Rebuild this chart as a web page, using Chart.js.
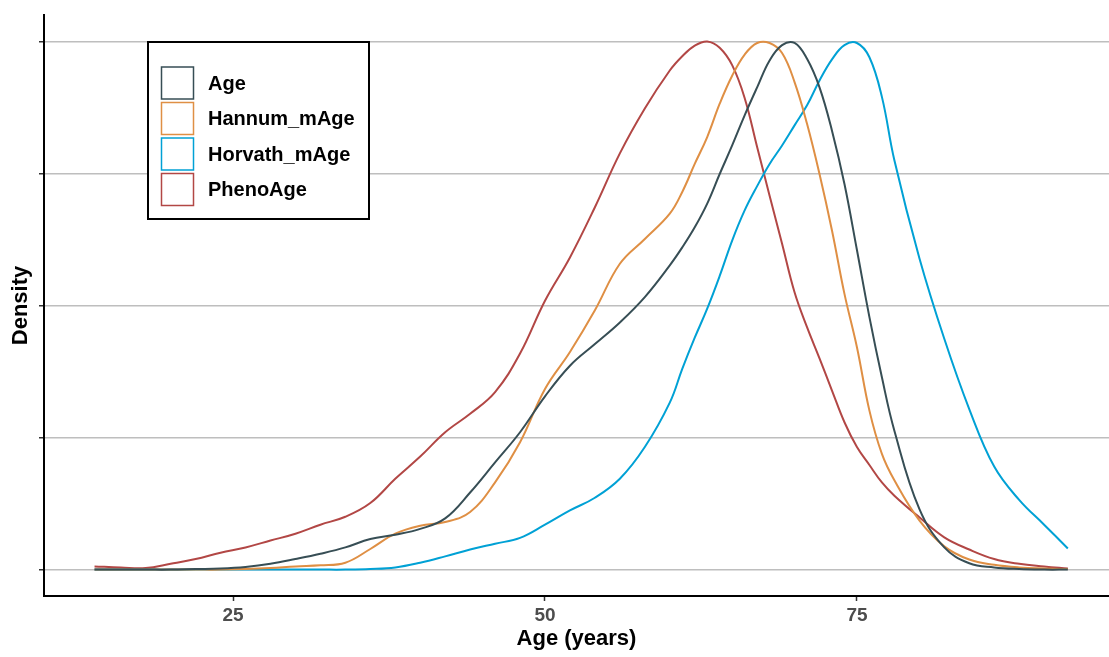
<!DOCTYPE html>
<html>
<head>
<meta charset="utf-8">
<script src="https://cdn.jsdelivr.net/npm/chart.js@4/dist/chart.umd.min.js"></script>
<style>
  html, body { margin: 0; padding: 0; background: #ffffff; }
  #wrap { width: 1109px; height: 657px; position: relative; }
</style>
</head>
<body>
<div id="wrap"><canvas id="chart" width="1109" height="657"></canvas></div>
<script>
// Age grid (years) shared by every density curve
const ages = [13.9, 16, 18, 20, 22, 24, 26, 28, 30, 32, 34, 36, 38, 40, 42, 44, 46, 48, 50, 52, 54, 56, 58, 60,
  61, 62, 63, 64, 65, 66, 67, 68, 69, 70, 71, 72, 73, 74, 75, 76, 77, 78,
  80, 82, 84, 86, 88, 90, 91.9];

// Scaled densities (each curve peaks at 1)
const ageDensity = [0, 0, 0, 0, 0.001, 0.002, 0.005, 0.011, 0.020, 0.030, 0.042, 0.058, 0.066, 0.077, 0.097, 0.146, 0.203, 0.260, 0.328, 0.386, 0.427, 0.468, 0.516, 0.576,
  0.610, 0.648, 0.693, 0.749, 0.803, 0.860, 0.913, 0.964, 0.993, 0.997, 0.967, 0.913, 0.831, 0.730, 0.605, 0.478, 0.364, 0.263,
  0.115, 0.042, 0.012, 0.004, 0.001, 0, 0];

const hannumDensity = [0, 0, 0, 0, 0, 0, 0.001, 0.003, 0.006, 0.008, 0.013, 0.039, 0.068, 0.083, 0.090, 0.109, 0.165, 0.241, 0.342, 0.412, 0.491, 0.579, 0.626, 0.674,
  0.715, 0.768, 0.819, 0.882, 0.935, 0.975, 0.997, 0.997, 0.978, 0.923, 0.844, 0.749, 0.642, 0.522, 0.421, 0.301, 0.219, 0.169,
  0.093, 0.044, 0.019, 0.009, 0.004, 0.002, 0.001];

const horvathDensity = [0, 0, 0, 0, 0, 0, 0, 0, 0, 0, 0, 0.001, 0.004, 0.013, 0.025, 0.038, 0.049, 0.060, 0.085, 0.112, 0.136, 0.172, 0.232, 0.316,
  0.380, 0.439, 0.494, 0.556, 0.623, 0.680, 0.726, 0.768, 0.803, 0.841, 0.879, 0.926, 0.966, 0.993, 0.997, 0.970, 0.895, 0.775,
  0.590, 0.437, 0.304, 0.195, 0.132, 0.085, 0.040];

const phenoDensity = [0.006, 0.004, 0.003, 0.011, 0.020, 0.032, 0.042, 0.055, 0.068, 0.085, 0.100, 0.126, 0.172, 0.214, 0.260, 0.295, 0.336, 0.409, 0.509, 0.591, 0.686, 0.788, 0.873, 0.945,
  0.972, 0.992, 1.000, 0.988, 0.955, 0.893, 0.800, 0.708, 0.617, 0.525, 0.459, 0.400, 0.339, 0.279, 0.232, 0.198, 0.165, 0.140,
  0.099, 0.061, 0.038, 0.020, 0.011, 0.006, 0.002];

const seriesNames = ['Age', 'Hannum_mAge', 'Horvath_mAge', 'PhenoAge'];
const seriesColors = ['#374E55', '#DF8F44', '#00A1D5', '#B24745'];

const xTicks = [25, 50, 75];
const yTicks = [0, 0.25, 0.5, 0.75, 1];

const seriesValues = [ageDensity, hannumDensity, horvathDensity, phenoDensity];

const datasets = seriesNames.map((name, i) => ({
  label: name,
  data: ages.map((a, j) => ({ x: a, y: seriesValues[i][j] })),
  borderColor: seriesColors[i],
  backgroundColor: seriesColors[i],
  borderWidth: 2,
  pointRadius: 0,
  fill: false,
  tension: 0.4
}));

// Boxed legend drawn inside the plotting area
const boxedLegend = {
  id: 'boxedLegend',
  afterDraw(chart) {
    const ctx = chart.ctx;
    const area = chart.chartArea;
    const bx = area.left + 104, by = area.top + 27, bw = 221, bh = 177;
    ctx.save();
    ctx.fillStyle = '#ffffff';
    ctx.fillRect(bx, by, bw, bh);
    ctx.lineWidth = 2;
    ctx.strokeStyle = '#000000';
    ctx.strokeRect(bx, by, bw, bh);
    ctx.font = 'bold 20px "Liberation Sans", Arial, sans-serif';
    ctx.textBaseline = 'middle';
    chart.data.datasets.forEach((ds, i) => {
      const kx = bx + 13.5, ky = by + 25 + i * 35.5;
      ctx.lineWidth = 1.5;
      ctx.strokeStyle = ds.borderColor;
      ctx.strokeRect(kx, ky, 32, 32);
      ctx.fillStyle = '#000000';
      ctx.fillText(ds.label, bx + 60, ky + 17);
    });
    ctx.restore();
  }
};

new Chart(document.getElementById('chart'), {
  type: 'line',
  data: { datasets },
  options: {
    responsive: false,
    animation: false,
    layout: { padding: { top: 15, right: 0, left: 0, bottom: 0 } },
    plugins: { legend: { display: false }, tooltip: { enabled: false } },
    scales: {
      x: {
        type: 'linear',
        min: 9.85,
        max: 95.2,
        afterBuildTicks: s => { s.ticks = xTicks.map(v => ({ value: v })); },
        afterFit: s => { s.height = 61; },
        grid: { drawOnChartArea: false, drawTicks: true, tickLength: 5, tickColor: '#333333', tickWidth: 1.5 },
        border: { display: true, color: '#000000', width: 2 },
        ticks: {
          color: '#4d4d4d',
          padding: 3,
          maxRotation: 0,
          font: { family: '"Liberation Sans", Arial, sans-serif', size: 19, weight: 'bold' }
        },
        title: {
          display: true,
          text: 'Age (years)',
          color: '#000000',
          padding: { top: 0, bottom: 5 },
          font: { family: '"Liberation Sans", Arial, sans-serif', size: 22, weight: 'bold' }
        }
      },
      y: {
        type: 'linear',
        min: -0.05,
        max: 1.05,
        afterBuildTicks: s => { s.ticks = yTicks.map(v => ({ value: v })); },
        afterFit: s => { s.width = 44; },
        grid: { drawOnChartArea: true, color: '#bebebe', lineWidth: 1.5, drawTicks: true, tickLength: 5, tickColor: '#333333', tickWidth: 1.5 },
        border: { display: true, color: '#000000', width: 2 },
        ticks: { display: false },
        title: {
          display: true,
          text: 'Density',
          color: '#000000',
          padding: { top: 8, bottom: 0 },
          font: { family: '"Liberation Sans", Arial, sans-serif', size: 22, weight: 'bold' }
        }
      }
    }
  },
  plugins: [boxedLegend]
});
</script>
</body>
</html>
